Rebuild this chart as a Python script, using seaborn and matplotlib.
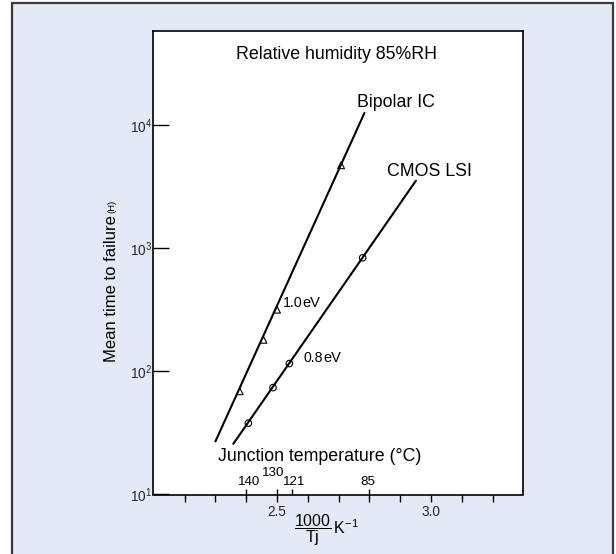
import matplotlib
matplotlib.use("Agg")
import matplotlib.pyplot as plt
import matplotlib.ticker as mticker
from matplotlib.patches import Rectangle
import seaborn as sns
import pandas as pd

# measured points (1000/Tj, hours)
bipolar_x = [2.379, 2.456, 2.500, 2.708]
bipolar_y = [69, 181, 318, 4750]
cmos_x = [2.407, 2.487, 2.540, 2.778]
cmos_y = [38, 74, 116, 840]

# fitted lines (end points)
bipolar_fit_x = [2.300, 2.784]
bipolar_fit_y = [27, 12650]
cmos_fit_x = [2.358, 2.951]
cmos_fit_y = [25.8, 3556]

# junction temperature marks on the x axis
temp_labels = ["140", "130", "121", "85"]
temp_pos = [2.40, 2.50, 2.55, 2.80]

x_ticks = [2.2, 2.3, 2.4, 2.5, 2.6, 2.7, 2.8, 2.9, 3.0, 3.1, 3.2]
x_labeled = [2.5, 3.0]
y_ticks = [10, 100, 1000, 10000]

sns.set_theme(style="white")
plt.rcParams["font.family"] = ["Liberation Sans", "DejaVu Sans"]
plt.rcParams["mathtext.fontset"] = "custom"
plt.rcParams["mathtext.rm"] = "Liberation Sans"
plt.rcParams["mathtext.it"] = "Liberation Sans:italic"
plt.rcParams["mathtext.bf"] = "Liberation Sans:bold"

fig = plt.figure(figsize=(6.16, 5.54), dpi=100, facecolor="white")
fig.patches.append(Rectangle((11.5 / 616, -0.05), (613 - 11.5) / 616, 1.05 - 2.5 / 554,
                             transform=fig.transFigure, facecolor="#e3eaf6",
                             edgecolor="#3a3a3a", linewidth=1.6, zorder=-10))

ax = fig.add_axes([153.2 / 616, (554 - 494.5) / 554, 370.2 / 616, 463.5 / 554])
ax.set_facecolor("white")
ax.set_yscale("log")

fits = pd.DataFrame({"x": bipolar_fit_x + cmos_fit_x, "y": bipolar_fit_y + cmos_fit_y,
                     "dev": ["Bipolar IC"] * 2 + ["CMOS LSI"] * 2})
sns.lineplot(data=fits, x="x", y="y", units="dev", estimator=None, color="black",
             linewidth=1.5, ax=ax, legend=False)
sns.scatterplot(x=bipolar_x, y=bipolar_y, marker="^", s=24, facecolor="none",
                edgecolor="black", linewidth=0.8, ax=ax, zorder=3)
sns.scatterplot(x=cmos_x, y=cmos_y, marker="o", s=22, facecolor="none",
                edgecolor="black", linewidth=0.8, ax=ax, zorder=3)

ax.set_xlim(2.098, 3.3)
ax.set_ylim(10, 58600)

for s in ax.spines.values():
    s.set_color("black")
    s.set_linewidth(1.2)

ax.xaxis.set_major_locator(mticker.FixedLocator(x_ticks))
ax.xaxis.set_major_formatter(mticker.FuncFormatter(
    lambda v, p: "%.1f" % v if any(abs(v - t) < 1e-6 for t in x_labeled) else ""))
ax.xaxis.set_minor_locator(mticker.FixedLocator(temp_pos))
ax.xaxis.set_minor_formatter(mticker.NullFormatter())
ax.xaxis.remove_overlapping_locs = False
ax.tick_params(axis="x", which="major", direction="out", length=4.7, width=1.0,
               color="black", labelsize=9.8, pad=3.2, bottom=True)
ax.tick_params(axis="x", which="minor", direction="in", length=4.3, width=1.0,
               color="black", bottom=True)

ax.yaxis.set_major_locator(mticker.FixedLocator(y_ticks))
ax.yaxis.set_major_formatter(mticker.LogFormatterMathtext())
ax.yaxis.set_minor_locator(mticker.NullLocator())
ax.tick_params(axis="y", which="major", direction="in", length=11.5, width=1.0,
               color="black", labelsize=9.8, pad=1.0, left=True)

# axis labels
ylab = ax.set_ylabel("Mean time to failure", fontsize=12, color="black", va="center")
ax.yaxis.set_label_coords(-0.1116, 0.4436)
ax.annotate("(H)", xy=(0.5, 1.0), xycoords=ylab, xytext=(0, 2), textcoords="offset points",
            rotation=90, ha="center", va="bottom", fontsize=6.8, color="black")

ax.set_xlabel(r"$\mathdefault{\dfrac{1000}{Tj}\,K^{-1}}$", fontsize=11.5, color="black", va="center")
ax.xaxis.set_label_coords(0.4668, -0.0766)

# temperature labels above the axis
raise_pts = {"130": 15.6}
shift_pts = {"140": 2, "130": -3, "121": 1, "85": -1}
for lab, pos in zip(temp_labels, temp_pos):
    ax.annotate(lab, xy=(pos, 0), xycoords=("data", "axes fraction"),
                xytext=(shift_pts[lab], raise_pts.get(lab, 9.0)), textcoords="offset points",
                ha="center", va="center", fontsize=9.6, color="black")

ax.text(0.4957, 0.9487, "Relative humidity 85%RH", transform=ax.transAxes,
        ha="center", va="center", fontsize=12.8, color="black")
ax.text(0.449, 0.081, "Junction temperature (\u00b0C)", transform=ax.transAxes,
        ha="center", va="center", fontsize=12.8, color="black")
ax.text(2.885, 15400, "Bipolar IC", ha="center", va="center", fontsize=12.8, color="black")
ax.text(2.995, 4240, "CMOS LSI", ha="center", va="center", fontsize=12.8, color="black")

t1 = ax.text(2.519, 333, "1.0", ha="left", va="baseline", fontsize=10.2, color="black")
ax.annotate("eV", xy=(1, 333), xycoords=(t1, "data"), ha="left", va="baseline",
            fontsize=10.5, color="black")
t2 = ax.text(2.587, 119, "0.8", ha="left", va="baseline", fontsize=10.2, color="black")
ax.annotate("eV", xy=(1, 119), xycoords=(t2, "data"), ha="left", va="baseline",
            fontsize=10.5, color="black")

fig.savefig("out.png", dpi=100, facecolor=fig.get_facecolor())
